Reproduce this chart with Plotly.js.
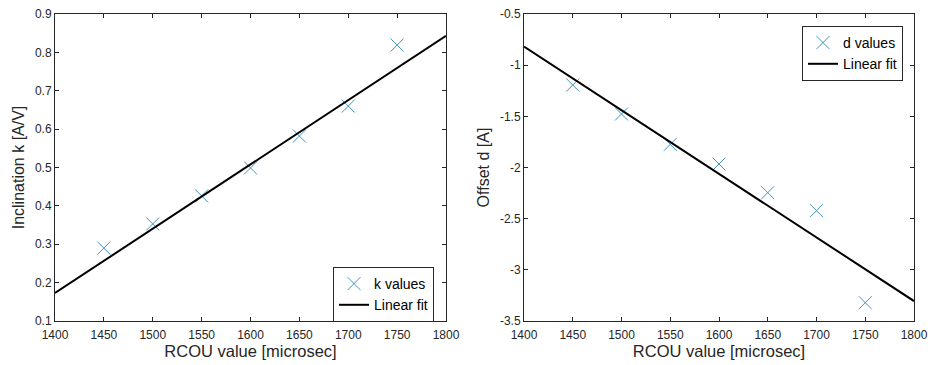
<!DOCTYPE html>
<html>
<head>
<meta charset="utf-8">
<script src="https://cdn.plot.ly/plotly-3.0.1.min.js"></script>
<style>html,body{margin:0;padding:0;background:#fff;}#chart{width:931px;height:365px;}</style>
</head>
<body>
<div id="chart"></div>
<script>
// Data
const rcou = [1450, 1500, 1550, 1600, 1650, 1700, 1750];
const kValues = [0.290, 0.353, 0.426, 0.499, 0.582, 0.660, 0.819];
const dValues = [-1.194, -1.477, -1.774, -1.966, -2.246, -2.422, -3.321];
const fitX = [1400, 1800];
const kFit = [0.173, 0.843];
const dFit = [-0.819, -3.305];
const xTicks = [1400, 1450, 1500, 1550, 1600, 1650, 1700, 1750, 1800];
const kTicks = [0.1, 0.2, 0.3, 0.4, 0.5, 0.6, 0.7, 0.8, 0.9];
const kTickText = ['0.1', '0.2', '0.3', '0.4', '0.5', '0.6', '0.7', '0.8', '0.9'];
const dTicks = [-3.5, -3, -2.5, -2, -1.5, -1, -0.5];
const dTickText = ['-3.5', '-3', '-2.5', '-2', '-1.5', '-1', '-0.5'];

const markerColor = '#3f95c0';
const fontFam = 'Liberation Sans, Arial, sans-serif';
const tickColor = '#262626';

const traces = [
  {x: rcou, y: kValues, type: 'scatter', mode: 'markers', name: 'k values', xaxis: 'x', yaxis: 'y', legend: 'legend',
   marker: {symbol: 'x-thin-open', size: 13, color: markerColor, line: {width: 1, color: markerColor}}},
  {x: fitX, y: kFit, type: 'scatter', mode: 'lines', name: 'Linear fit', xaxis: 'x', yaxis: 'y', legend: 'legend',
   line: {color: '#000', width: 2}},
  {x: rcou, y: dValues, type: 'scatter', mode: 'markers', name: 'd values', xaxis: 'x2', yaxis: 'y2', legend: 'legend2',
   marker: {symbol: 'x-thin-open', size: 13, color: markerColor, line: {width: 1, color: markerColor}}},
  {x: fitX, y: dFit, type: 'scatter', mode: 'lines', name: 'Linear fit', xaxis: 'x2', yaxis: 'y2', legend: 'legend2',
   line: {color: '#000', width: 2}}
];

function axisBase() {
  return {
    showgrid: false, zeroline: false, showline: true, linecolor: '#262626', linewidth: 1,
    mirror: 'ticks', ticks: 'inside', ticklen: 4, tickcolor: '#262626', tickwidth: 1,
    tickfont: {family: fontFam, size: 12, color: tickColor}
  };
}

const xTitle = {text: 'RCOU value [microsec]', font: {family: fontFam, size: 16.5, color: tickColor}, standoff: 4};

const layout = {
  width: 931, height: 365,
  margin: {l: 0, r: 0, t: 0, b: 0},
  paper_bgcolor: '#fff', plot_bgcolor: '#fff',
  font: {family: fontFam, color: tickColor},
  showlegend: true,
  xaxis: Object.assign(axisBase(), {domain: [55/931, 446/931], range: [1400, 1800], tickvals: xTicks, anchor: 'y', title: xTitle, ticklabelstandoff: 3}),
  yaxis: Object.assign(axisBase(), {domain: [1 - 321/365, 1 - 14/365], range: [0.1, 0.9], tickvals: kTicks, ticktext: kTickText, anchor: 'x',
    title: {text: 'Inclination k [A/V]', font: {family: fontFam, size: 16, color: tickColor}, standoff: 6}}),
  xaxis2: Object.assign(axisBase(), {domain: [524/931, 914/931], range: [1400, 1800], tickvals: xTicks, anchor: 'y2', title: xTitle, ticklabelstandoff: 3}),
  yaxis2: Object.assign(axisBase(), {domain: [1 - 321/365, 1 - 14/365], range: [-3.5, -0.5], tickvals: dTicks, ticktext: dTickText, anchor: 'x2',
    title: {text: 'Offset d [A]', font: {family: fontFam, size: 16, color: tickColor}, standoff: 6}}),
  legend: {x: 333/931, y: 1 - 267/365, xanchor: 'left', yanchor: 'top', bgcolor: '#fff', bordercolor: '#262626', borderwidth: 1,
    font: {family: fontFam, size: 14, color: '#000'}, tracegroupgap: 0, itemwidth: 30},
  legend2: {x: 802/931, y: 1 - 26/365, xanchor: 'left', yanchor: 'top', bgcolor: '#fff', bordercolor: '#262626', borderwidth: 1,
    font: {family: fontFam, size: 14, color: '#000'}, tracegroupgap: 0, itemwidth: 30}
};

Plotly.newPlot('chart', traces, layout, {displayModeBar: false, staticPlot: true});
</script>
</body>
</html>
